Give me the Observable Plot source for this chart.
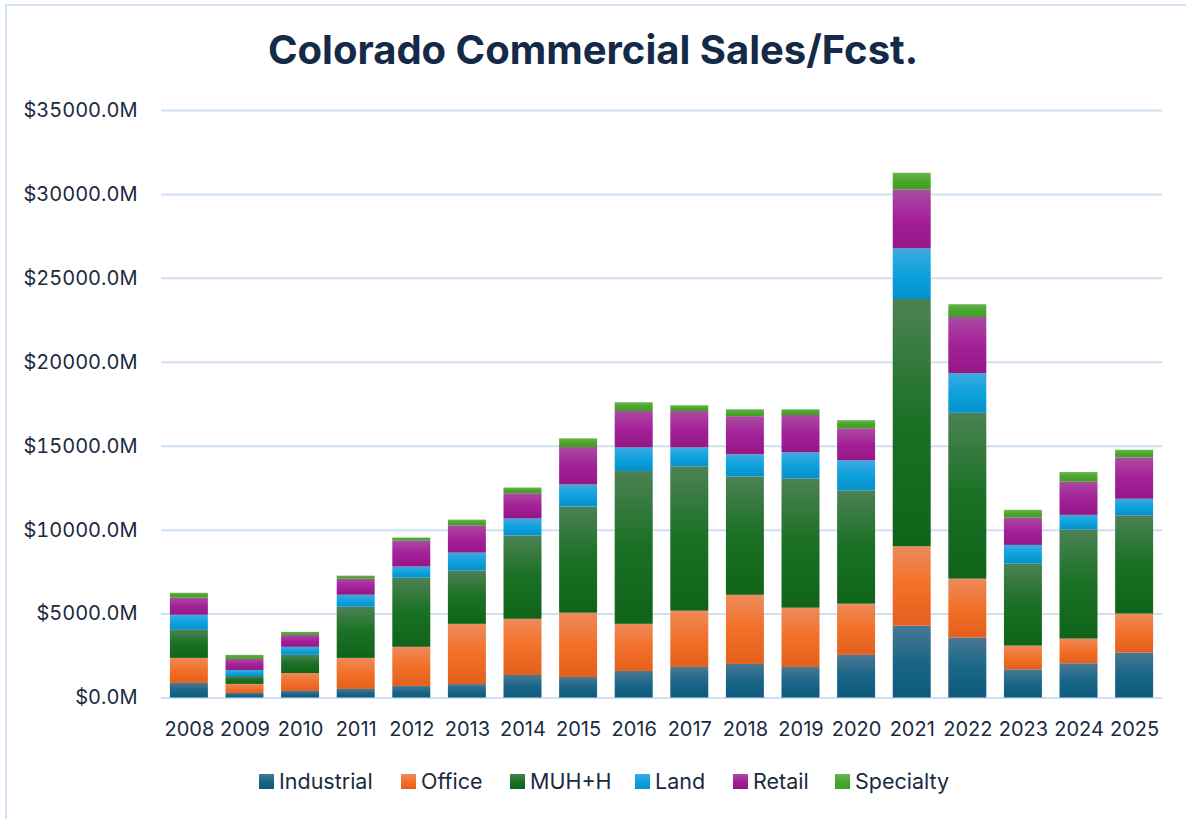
<!DOCTYPE html>
<html>
<head>
<meta charset="utf-8">
<script src="https://cdn.jsdelivr.net/npm/d3@7"></script>
<script src="https://cdn.jsdelivr.net/npm/@observablehq/plot@0.6"></script>
<style>
  html, body { margin: 0; padding: 0; background: #fff; }
  #wrap { position: relative; width: 1186px; height: 819px; overflow: hidden; font-family: Inter, "Open Sans", sans-serif; color: #1b2a41; }
  #border { position: absolute; left: 5px; top: 4px; width: 1300px; height: 1000px; border-left: 2px solid #d3e3f5; border-top: 2px solid #d3e3f5; }
  #title { position: absolute; left: 0; top: 30px; width: 1186px; text-align: center; font-size: 40px; line-height: 40px; font-weight: 700; color: #142a47; }
  #chart { position: absolute; left: 0; top: 0; }
  #legend { position: absolute; left: 0; top: 771px; width: 1186px; height: 22px; font-size: 21.5px; line-height: 21px; }
  .item { position: absolute; top: 0; display: flex; align-items: center; white-space: nowrap; }
  .sw { width: 15px; height: 15px; margin-right: 5px; }
</style>
</head>
<body>
<div id="wrap">
  <div id="border"></div>
  <div id="chart"></div>
  <div id="title">Colorado Commercial Sales/Fcst.</div>
  <div id="legend"></div>
</div>
<script>
const years = ["2008","2009","2010","2011","2012","2013","2014","2015","2016","2017","2018","2019","2020","2021","2022","2023","2024","2025"];
const seriesNames = ["Industrial","Office","MUH+H","Land","Retail","Specialty"];
const industrial = [870,270,390,510,690,800,1340,1220,1580,1820,2000,1820,2540,4280,3570,1680,2040,2680];
const office     = [1490,540,1070,1850,2330,3590,3350,3830,2810,3350,4120,3530,3050,4730,3510,1410,1470,2320];
const muh        = [1670,470,1080,3050,4120,3170,4960,6330,9100,8600,7050,7700,6750,14730,9880,4890,6500,5850];
const land       = [900,360,480,710,660,1070,1010,1310,1410,1130,1320,1560,1790,3020,2360,1110,870,990];
const retail     = [1030,660,710,960,1550,1630,1510,2230,2170,2170,2270,2220,1910,3510,3350,1630,1980,2460];
const specialty  = [280,240,180,180,180,340,340,520,520,340,410,340,480,990,760,460,570,460];
const yTicks = [0,5000,10000,15000,20000,25000,30000,35000];

const seriesValues = [industrial, office, muh, land, retail, specialty];
const baseColors = ["#156082","#e97132","#196b24","#0f9ed5","#a02b93","#4ea72e"];
const grads = [
  ["#4a7893","#1a6688","#0c5a7c"],
  ["#ee8a5a","#f27028","#e2601c"],
  ["#4c8254","#1a7024","#0f6419"],
  ["#3daae2","#0ea2dc","#0590cc"],
  ["#aa4ca0","#a4209a","#941884"],
  ["#6ab552","#4aa62a","#3f9e24"]
];
const legendTextX = [279, 421, 530, 655, 753, 855];

const rows = [];
seriesNames.forEach((s, i) => {
  years.forEach((yr, j) => rows.push({year: yr, type: s, value: seriesValues[i][j]}));
});

const chart = Plot.plot({
  width: 1186,
  height: 819,
  marginTop: 110,
  marginBottom: 121.5,
  marginLeft: 161,
  marginRight: 24,
  style: {fontFamily: "Inter, 'Open Sans', sans-serif", fontSize: "20px", color: "#1b2a41", background: "transparent"},
  x: {type: "band", domain: years, paddingInner: 0.317, paddingOuter: 0.16, round: false, label: null},
  y: {domain: [0, 35000], label: null},
  color: {domain: seriesNames, range: baseColors},
  marks: [
    Plot.gridY(yTicks, {stroke: "#cfe0f3", strokeOpacity: 1, strokeWidth: 2}),
    Plot.axisY(yTicks, {tickSize: 0, tickPadding: 24, tickFormat: d => "$" + d.toFixed(1) + "M", label: null}),
    Plot.axisX({tickSize: 0, tickPadding: 24, label: null}),
    Plot.barY(rows, {x: "year", y: "value", fill: "type"})
  ]
});

// gradient defs
const ns = "http://www.w3.org/2000/svg";
const defs = document.createElementNS(ns, "defs");
grads.forEach((g, i) => {
  const lg = document.createElementNS(ns, "linearGradient");
  lg.setAttribute("id", "grad" + i);
  lg.setAttribute("x1", "0"); lg.setAttribute("y1", "0");
  lg.setAttribute("x2", "0"); lg.setAttribute("y2", "1");
  [[0, g[0]], [0.5, g[1]], [1, g[2]]].forEach(([o, c]) => {
    const st = document.createElementNS(ns, "stop");
    st.setAttribute("offset", o);
    st.setAttribute("stop-color", c);
    lg.appendChild(st);
  });
  defs.appendChild(lg);
});
chart.insertBefore(defs, chart.firstChild);
chart.querySelectorAll('g[aria-label="bar"] rect').forEach(r => {
  const f = (r.getAttribute("fill") || "").toLowerCase();
  const idx = baseColors.indexOf(f);
  if (idx >= 0) r.setAttribute("fill", "url(#grad" + idx + ")");
});
document.getElementById("chart").appendChild(chart);

// legend
const legend = document.getElementById("legend");
seriesNames.forEach((s, i) => {
  const it = document.createElement("div");
  it.className = "item";
  it.style.left = (legendTextX[i] - 20) + "px";
  const sw = document.createElement("div");
  sw.className = "sw";
  sw.style.background = `linear-gradient(to bottom, ${grads[i][0]}, ${grads[i][1]}, ${grads[i][2]})`;
  const t = document.createElement("span");
  t.textContent = s;
  it.appendChild(sw); it.appendChild(t);
  legend.appendChild(it);
});
</script>
</body>
</html>
